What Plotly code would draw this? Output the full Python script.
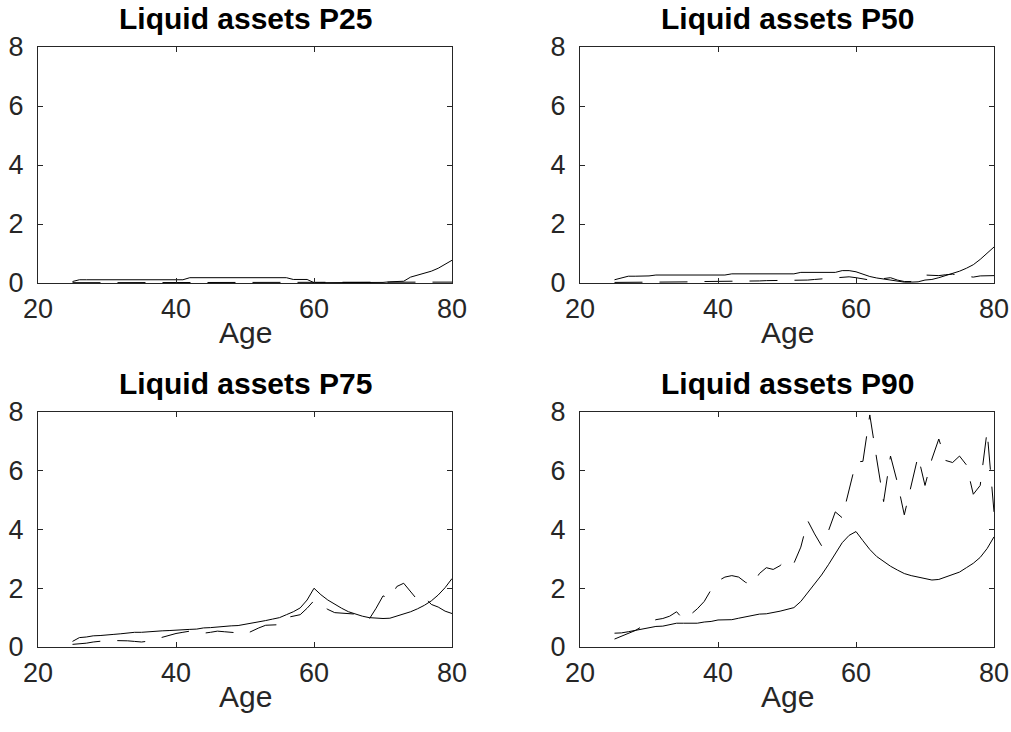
"""Liquid assets by age: four percentile panels (solid vs dashed series)."""

import plotly.graph_objects as go
from plotly.subplots import make_subplots

# Ages 25..80
ages = list(range(25, 81))

# P25
p25_solid = [0.05] + [0.11] * 16 + [0.18] * 15 + [0.12] * 3 + [0.01] * 10 + \
    [0.02, 0.04, 0.05, 0.06, 0.2, 0.26, 0.32, 0.4, 0.5, 0.63, 0.77]
p25_dashed = [0.01] * 51 + [0.03] * 5

# P50
p50_solid = [0.11, 0.18, 0.23, 0.23, 0.23, 0.24] + [0.27] * 11 + [0.31] * 10 + [0.36] * 6 + \
    [0.42, 0.42, 0.38, 0.3, 0.22, 0.17, 0.13, 0.1, 0.07, 0.03, 0.03, 0.04,
     0.1, 0.12, 0.18, 0.25, 0.32, 0.4, 0.5, 0.62, 0.8, 1.0, 1.22]
p50_dashed = [0.02, 0.02, 0.03, 0.03, 0.03, 0.03, 0.03, 0.04, 0.04, 0.04,
              0.04, 0.04, 0.04, 0.05, 0.05, 0.05, 0.06, 0.07, 0.07, 0.07,
              0.07, 0.07, 0.08, 0.08, 0.08, 0.08, 0.09, 0.09, 0.1, 0.12,
              0.14, 0.16, 0.18, 0.2, 0.21, 0.18, 0.15, 0.1, 0.12, 0.15,
              0.18, 0.1, 0.05, 0.05, 0.22, 0.27, 0.25, 0.25, 0.28, 0.3,
              0.26, 0.22, 0.2, 0.24, 0.25, 0.25]

# P75
p75_solid = [0.19, 0.32, 0.34, 0.38, 0.39, 0.4, 0.43, 0.45, 0.48, 0.5,
             0.5, 0.52, 0.55, 0.55, 0.56, 0.58, 0.6, 0.6, 0.61, 0.65,
             0.66, 0.68, 0.72, 0.72, 0.73, 0.77, 0.8, 0.85, 0.9, 0.95,
             1.0, 1.1, 1.2, 1.33, 1.6, 2.0, 1.78, 1.6, 1.45, 1.32,
             1.2, 1.12, 1.05, 1.0, 0.98, 0.97, 0.98, 1.05, 1.12, 1.2,
             1.3, 1.42, 1.57, 1.77, 2.02, 2.33]
p75_dashed = [0.09, 0.1, 0.13, 0.17, 0.2, 0.22, 0.22, 0.22, 0.21, 0.19,
              0.17, 0.2, 0.27, 0.32, 0.4, 0.46, 0.5, 0.54, 0.48, 0.47,
              0.5, 0.54, 0.52, 0.5, 0.48, 0.43, 0.55, 0.65, 0.74, 0.75,
              0.76, 1.0, 1.05, 1.1, 1.32, 1.58, 1.42, 1.28, 1.17, 1.15,
              1.15, 1.12, 1.02, 0.95, 1.32, 1.74, 1.65, 2.06, 2.17, 1.9,
              1.6, 1.71, 1.45, 1.36, 1.22, 1.14]

# P90
p90_solid = [0.47, 0.48, 0.52, 0.56, 0.61, 0.66, 0.7, 0.71, 0.76, 0.81,
             0.81, 0.81, 0.81, 0.85, 0.87, 0.92, 0.93, 0.93, 0.98, 1.03,
             1.08, 1.12, 1.13, 1.17, 1.22, 1.28, 1.34, 1.55, 1.85, 2.15,
             2.45, 2.8, 3.2, 3.55, 3.8, 3.93, 3.62, 3.32, 3.08, 2.9,
             2.75, 2.62, 2.5, 2.43, 2.38, 2.32, 2.28, 2.3, 2.38, 2.47,
             2.55, 2.7, 2.85, 3.05, 3.35, 3.75]
p90_dashed = [0.27, 0.36, 0.45, 0.56, 0.7, 0.82, 0.93, 0.97, 1.05, 1.2,
              0.93, 1.1, 1.3, 1.55, 1.95, 2.25, 2.38, 2.43, 2.38, 2.2,
              2.12, 2.5, 2.7, 2.64, 2.77, 3.0, 2.85, 3.4, 4.3, 3.85,
              3.45, 3.95, 4.6, 4.4, 5.3, 6.3, 6.32, 7.9, 6.4, 4.95,
              6.5, 5.6, 4.5, 5.45, 6.5, 5.5, 6.4, 7.08, 6.35, 6.28,
              6.5, 6.2, 5.2, 5.5, 7.35, 4.6]

titles = ["Liquid assets P25", "Liquid assets P50", "Liquid assets P75", "Liquid assets P90"]
panels = [(p25_solid, p25_dashed), (p50_solid, p50_dashed),
          (p75_solid, p75_dashed), (p90_solid, p90_dashed)]

W, H = 1011, 732
FONT = "Liberation Sans, Arial, Helvetica, sans-serif"
AXC = "#262626"

# plot-area pixel boxes (left, right) and (top, bottom)
col_px = [(38, 452), (580, 994)]
row_px = [(47, 283), (412, 647)]

fig = make_subplots(rows=2, cols=2)

for i, (solid, dashed) in enumerate(panels):
    r, c = i // 2 + 1, i % 2 + 1
    fig.add_trace(go.Scatter(x=ages, y=solid, mode='lines',
                             line=dict(color='black', width=1)), row=r, col=c)
    fig.add_trace(go.Scatter(x=ages, y=dashed, mode='lines',
                             line=dict(color='black', width=1, dash='28px,17px')), row=r, col=c)

annotations = []
for i in range(4):
    r, c = i // 2, i % 2
    x0, x1 = col_px[c]
    y0, y1 = row_px[r]
    fig.update_xaxes(domain=[x0 / W, x1 / W], row=r + 1, col=c + 1)
    fig.update_yaxes(domain=[1 - y1 / H, 1 - y0 / H], row=r + 1, col=c + 1)
    xc = (x0 + x1) / 2 / W
    annotations.append(dict(text="<b>" + titles[i] + "</b>", x=xc, y=1 - (y0 - 10) / H,
                            xref='paper', yref='paper', xanchor='center', yanchor='bottom',
                            showarrow=False, font=dict(size=30, color='black', family=FONT)))
    annotations.append(dict(text="Age", x=xc, y=1 - (y1 + 31) / H,
                            xref='paper', yref='paper', xanchor='center', yanchor='top',
                            showarrow=False, font=dict(size=30, color=AXC, family=FONT)))

fig.update_xaxes(range=[20, 80], tickvals=[20, 40, 60, 80], ticks='inside', ticklen=5,
                 tickcolor=AXC, showline=True, linecolor=AXC, linewidth=1, mirror='ticks',
                 showgrid=False, zeroline=False, ticklabelstandoff=2, automargin=False,
                 tickfont=dict(size=27, color=AXC, family=FONT))
fig.update_yaxes(range=[0, 8], tickvals=[0, 2, 4, 6, 8], ticks='inside', ticklen=5,
                 tickcolor=AXC, showline=True, linecolor=AXC, linewidth=1, mirror='ticks',
                 showgrid=False, zeroline=False, ticklabelstandoff=8, automargin=False,
                 tickfont=dict(size=27, color=AXC, family=FONT))

fig.update_layout(
    width=W, height=H,
    margin=dict(l=0, r=0, t=0, b=0),
    plot_bgcolor='white',
    paper_bgcolor='white',
    showlegend=False,
    annotations=annotations,
    font=dict(family=FONT)
)

# drop the default 8px page margin so the figure fills the window exactly
fig.write_html("out.html", config={'displayModeBar': False},
               post_script="document.body.style.margin='0';document.body.style.overflow='hidden';")
